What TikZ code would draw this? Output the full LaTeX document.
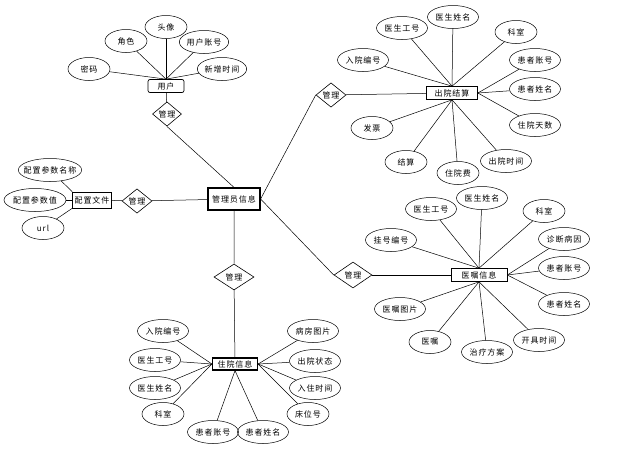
\documentclass[tikz,border=0pt]{standalone}
\usepackage{fontspec}
\newfontfamily\cjk[LetterSpace=12]{Noto Sans CJK SC}
\usetikzlibrary{shapes.geometric}

\tikzset{
  ent/.style={draw,rectangle,inner xsep=2pt,inner ysep=1pt,minimum height=13pt,line width=0.7pt},
  bigent/.style={ent,line width=1.2pt},
  attr/.style={draw,ellipse,inner sep=0pt,minimum width=51pt,minimum height=23pt,line width=0.5pt},
  sattr/.style={attr,minimum width=42pt},
  rel/.style={draw,diamond,inner sep=0pt,minimum width=30pt,minimum height=20pt,line width=0.6pt},
}

\begin{document}
\begin{tikzpicture}[x=1pt,y=-1pt,font=\cjk\fontsize{8}{9}\selectfont,line width=0.5pt]
\useasboundingbox (0,0) rectangle (635,448);
% user
\node[ent,rounded corners=2pt,minimum width=36pt] (user) at (166,86) {用户};
\node[sattr] (u1) at (89,69) {密码};
\node[sattr] (u2) at (126,41) {角色};
\node[sattr] (u3) at (166,27) {头像};
\node[attr,minimum width=48pt] (u4) at (204,42) {用户账号};
\node[attr,minimum width=48pt] (u5) at (222,69) {新增时间};
\foreach \a in {u1,u2,u3,u4,u5} \draw (\a) -- (user.north);
\node[rel,minimum width=29pt,minimum height=22pt] (r1) at (167,114) {管理};
\draw (user) -- (r1);

% admin
\node[bigent,minimum width=52pt,minimum height=22pt] (admin) at (234,199) {管理员信息};
\draw (r1.south) -- (admin.north);

% config
\node[ent,minimum width=38pt,minimum height=16pt] (conf) at (92,200) {配置文件};
\node[attr,minimum width=63pt,inner xsep=-4pt] (c1) at (50,170) {配置参数名称};
\node[attr,minimum width=57pt] (c2) at (35,200) {配置参数值};
\node[sattr] (c3) at (43,228) {url};
\draw (c1) -- (conf.north west);
\draw (c2) -- (conf.west);
\draw (c3) -- (conf.south west);
\node[rel,minimum height=18pt] (r2) at (137,201) {管理};
\draw (conf) -- (r2) -- (admin);

% discharge settlement
\node[ent,minimum width=51pt] (out) at (452,93) {出院结算};
\node[rel] (r3) at (331,95) {管理};
\draw (admin.east) -- (r3.west);
\draw (r3) -- (out);
\node[attr] (o1) at (363,60) {入院编号};
\node[attr] (o2) at (402,28) {医生工号};
\node[attr] (o3) at (453,17) {医生姓名};
\node[sattr] (o4) at (516,32) {科室};
\node[attr] (o5) at (535,60) {患者账号};
\node[attr] (o6) at (535,89) {患者姓名};
\node[attr] (o7) at (535,125) {住院天数};
\node[attr] (o8) at (506,161) {出院时间};
\node[sattr] (o9) at (458,173) {住院费};
\node[sattr] (o10) at (406,162) {结算};
\node[sattr] (o11) at (372,128) {发票};
\foreach \a in {o1,o2,o3,o4} \draw (\a) -- (out.north);
\foreach \a in {o5,o6,o7} \draw (\a) -- (out.east);
\foreach \a in {o8,o9,o10,o11} \draw (\a) -- (out.south);

% medical orders
\node[ent,minimum width=56pt] (ord) at (479,275) {医嘱信息};
\node[rel,minimum width=38pt,minimum height=26pt] (r4) at (353,275) {管理};
\draw (admin.east) -- (r4.west);
\draw (r4) -- (ord);
\node[attr] (m1) at (391,240) {挂号编号};
\node[attr] (m2) at (431,209) {医生工号};
\node[attr] (m3) at (482,198) {医生姓名};
\node[sattr] (m4) at (544,211) {科室};
\node[attr] (m5) at (564,239) {诊断病因};
\node[attr] (m6) at (564,268) {患者账号};
\node[attr] (m7) at (564,304) {患者姓名};
\node[attr] (m8) at (539,340) {开具时间};
\node[attr] (m9) at (487,352) {治疗方案};
\node[sattr] (m10) at (430,342) {医嘱};
\node[attr] (m11) at (400,309) {医嘱图片};
\foreach \a in {m1,m2,m3,m4} \draw (\a) -- (ord.north);
\foreach \a in {m5,m6,m7} \draw (\a) -- (ord.east);
\foreach \a in {m8,m9,m10,m11} \draw (\a) -- (ord.south);

% inpatient
\node[bigent,minimum width=45pt,minimum height=12pt] (inp) at (235,364) {住院信息};
\node[rel,minimum width=40pt,minimum height=26pt] (r5) at (234,277) {管理};
\draw (admin) -- (r5) -- (inp);
\node[attr] (p1) at (163,331) {入院编号};
\node[attr] (p2) at (155,360) {医生工号};
\node[attr] (p3) at (155,388) {医生姓名};
\node[sattr] (p4) at (163,414) {科室};
\node[attr] (p5) at (213,432) {患者账号};
\node[attr] (p6) at (263,432) {患者姓名};
\node[sattr] (p7) at (308,414) {床位号};
\node[attr] (p8) at (315,388) {入住时间};
\node[attr] (p9) at (315,361) {出院状态};
\node[attr] (p10) at (313,331) {病房图片};
\foreach \a in {p1,p2,p3,p4} \draw (\a) -- (inp.west);
\foreach \a in {p5,p6} \draw (\a) -- (inp.south);
\foreach \a in {p7,p8,p9,p10} \draw (\a) -- (inp.east);
\end{tikzpicture}
\end{document}
